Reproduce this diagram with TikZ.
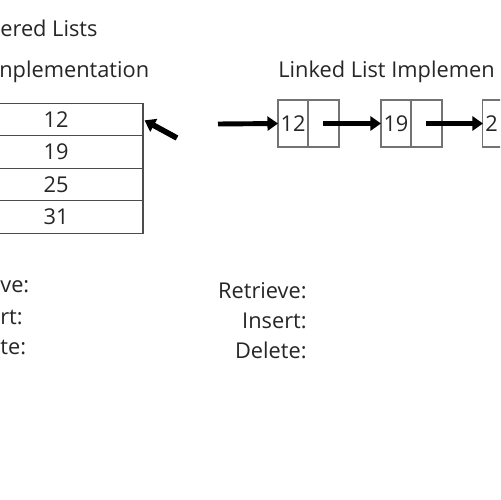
\documentclass[tikz,border=0pt]{standalone}
\usepackage{fontspec}
\setmainfont{Open Sans}
\usetikzlibrary{arrows.meta, positioning}

\tikzset{
  txt/.style={font=\fontsize{12.4}{15}\selectfont, text=black!85, inner sep=0pt},
  acell/.style={draw=black!70, line width=0.7pt, minimum width=3.48cm, minimum height=0.65cm, inner sep=0pt, outer sep=0pt, txt},
  lcell/.style={draw=black!55, line width=0.6pt, minimum height=0.94cm, inner sep=0pt, outer sep=0pt, txt},
  ptr/.style={-{Triangle[length=6pt, width=8pt]}, line width=2.8pt, black},
}

\begin{document}
\begin{tikzpicture}[x=0.02cm, y=-0.02cm]
    \useasboundingbox (0,0) rectangle (500,500);
    \fill[white] (0,0) rectangle (500,500);
    \clip (0,0) rectangle (500,500);

    % titles
    \node[txt, anchor=base west] (title) at (0,37) {ered Lists};
    \node[txt, anchor=base west] (atitle) at (-1,78) {nplementation};
    \node[txt, anchor=base west] (ltitle) at (278,78) {Linked List Implemen};

    % array
    \node[acell] (a1) at (56,119.5) {12};
    \node[acell, below=0pt of a1] (a2) {19};
    \node[acell, below=0pt of a2] (a3) {25};
    \node[acell, below=0pt of a3] (a4) {31};

    % linked list
    \node[lcell, minimum width=0.6cm] (l1v) at (293,123.5) {12};
    \node[lcell, minimum width=0.62cm, right=0pt of l1v] (l1p) {};
    \node[lcell, minimum width=0.6cm, right=0.84cm of l1p] (l2v) {19};
    \node[lcell, minimum width=0.62cm, right=0pt of l2v] (l2p) {};
    \node[lcell, minimum width=0.6cm, right=0.82cm of l2p, text width=0.5cm] (l3v) {2};
    \node[lcell, minimum width=0.62cm, right=0pt of l3v] (l3p) {};

    \coordinate (head) at (218,124);
    \coordinate (cur) at (177,138);
    \draw[ptr] (head) -- (l1v.west);
    \draw[ptr] (l1p.center) -- (l2v.west);
    \draw[ptr] (l2p.center) -- (l3v.west);
    \draw[ptr, line width=3.2pt, shorten >=1pt] (cur) -- (a1.east);

    % operations
    \node[txt, anchor=base west] (aret) at (0,292) {ve:};
    \node[txt, anchor=base west] (ains) at (0,324) {rt:};
    \node[txt, anchor=base west] (adel) at (0,354) {te:};
    \node[txt, anchor=base east] (lret) at (307,298) {Retrieve:};
    \node[txt, anchor=base east] (lins) at (307,328) {Insert:};
    \node[txt, anchor=base east] (ldel) at (307,358) {Delete:};
\end{tikzpicture}
\end{document}
